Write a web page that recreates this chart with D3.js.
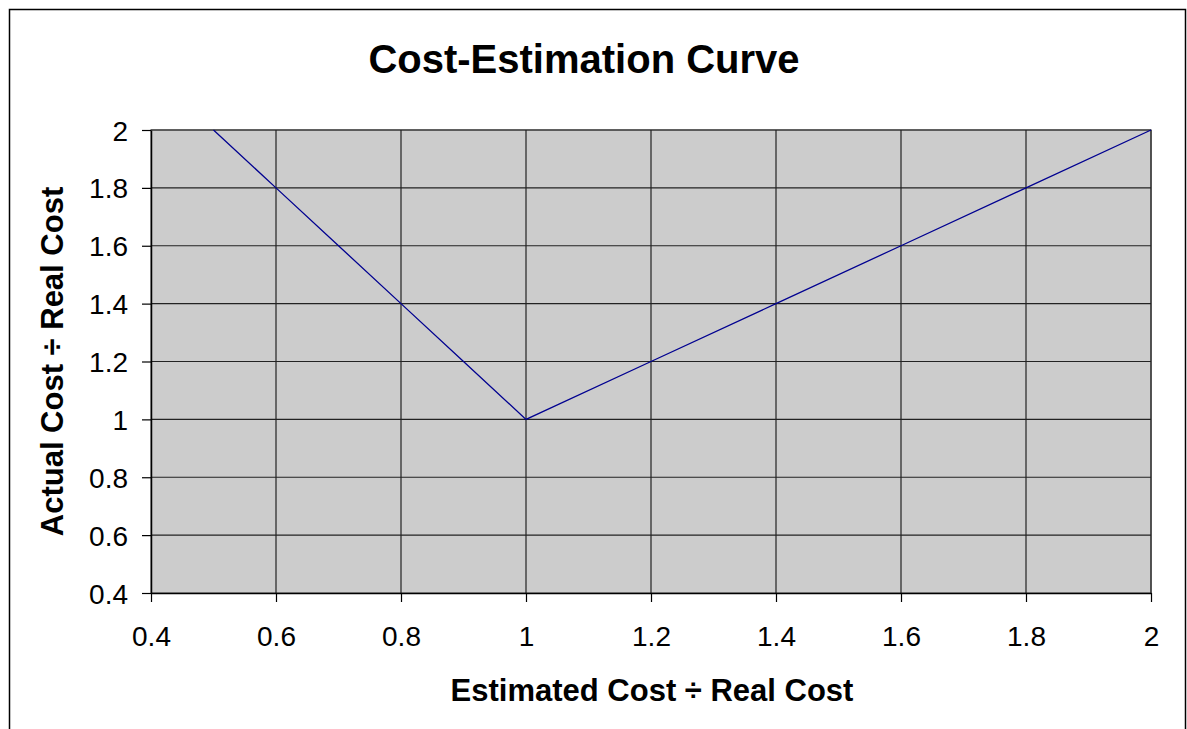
<!DOCTYPE html>
<html>
<head>
<meta charset="utf-8">
<script src="https://cdn.jsdelivr.net/npm/d3@7"></script>
<style>
  body { margin: 0; background: #fff; }
  svg { display: block; font-family: "Liberation Sans", Arial, sans-serif; }
  .tick text { font-size: 28px; fill: #000; }
</style>
</head>
<body>
<div id="container"></div>
<script>
// values
var estimated = [0.5, 0.6, 0.7, 0.8, 0.9, 1.0, 1.2, 1.4, 1.6, 1.8, 2.0];
var actual    = [2.0, 1.8, 1.6, 1.4, 1.2, 1.0, 1.2, 1.4, 1.6, 1.8, 2.0];
var xTicks = [0.4, 0.6, 0.8, 1, 1.2, 1.4, 1.6, 1.8, 2];
var yTicks = [0.4, 0.6, 0.8, 1, 1.2, 1.4, 1.6, 1.8, 2];
var xDomain = [0.4, 2];
var yDomain = [0.4, 2];

var W = 1187, H = 729;
var margin = { top: 130, right: 36, bottom: 136, left: 151 };
var width = W - margin.left - margin.right;   // 1000
var height = H - margin.top - margin.bottom;  // 463

var svg = d3.select("#container").append("svg")
  .attr("width", W)
  .attr("height", H);

// outer chart border (bottom edge falls outside the picture)
svg.append("rect")
  .attr("x", 9.5).attr("y", 9.5)
  .attr("width", 1176).attr("height", 740)
  .attr("fill", "#fff")
  .attr("stroke", "#000")
  .attr("stroke-width", 1.5);

var g = svg.append("g")
  .attr("transform", "translate(" + margin.left + "," + margin.top + ")");

var x = d3.scaleLinear().domain(xDomain).range([0, width]);
var y = d3.scaleLinear().domain(yDomain).range([height, 0]);

// plot area
g.append("rect")
  .attr("width", width).attr("height", height)
  .attr("fill", "#cccccc")
  .attr("stroke", "#808080")
  .attr("stroke-width", 1.5);

// grid lines
g.append("g")
  .selectAll("line.gx")
  .data(xTicks.slice(1))
  .enter().append("line")
  .attr("x1", function(d) { return x(d); })
  .attr("x2", function(d) { return x(d); })
  .attr("y1", 0).attr("y2", height)
  .attr("stroke", "#222").attr("stroke-width", 1.2);

g.append("g")
  .selectAll("line.gy")
  .data(yTicks.slice(1))
  .enter().append("line")
  .attr("y1", function(d) { return y(d); })
  .attr("y2", function(d) { return y(d); })
  .attr("x1", 0).attr("x2", width)
  .attr("stroke", "#222").attr("stroke-width", 1.2);

// axes
var xAxis = d3.axisBottom(x)
  .tickValues(xTicks)
  .tickSize(9)
  .tickPadding(24)
  .tickSizeOuter(0)
  .tickFormat(d3.format("~g"));

var yAxis = d3.axisLeft(y)
  .tickValues(yTicks)
  .tickSize(9)
  .tickPadding(14)
  .tickSizeOuter(0)
  .tickFormat(d3.format("~g"));

var gx = g.append("g")
  .attr("transform", "translate(0," + height + ")")
  .call(xAxis);
var gy = g.append("g").call(yAxis);

[gx, gy].forEach(function(a) {
  a.select(".domain").attr("stroke", "#000").attr("stroke-width", 1.5);
  a.selectAll(".tick line").attr("stroke", "#000").attr("stroke-width", 1.2);
  a.selectAll(".tick text").attr("font-family", null).attr("font-size", null);
});
gy.selectAll(".tick text").attr("dy", "0.36em");

// the curve
var line = d3.line()
  .x(function(d) { return x(d[0]); })
  .y(function(d) { return y(d[1]); });

g.append("path")
  .datum(d3.zip(estimated, actual))
  .attr("d", line)
  .attr("fill", "none")
  .attr("stroke", "#000090")
  .attr("stroke-width", 1.3);

// titles
svg.append("text")
  .attr("x", 584).attr("y", 73)
  .attr("text-anchor", "middle")
  .attr("font-size", 40)
  .attr("font-weight", "bold")
  .text("Cost-Estimation Curve");

svg.append("text")
  .attr("x", 652).attr("y", 701)
  .attr("text-anchor", "middle")
  .attr("font-size", 31)
  .attr("font-weight", "bold")
  .text("Estimated Cost \u00f7 Real Cost");

svg.append("text")
  .attr("transform", "translate(63," + (margin.top + height / 2) + ") rotate(-90)")
  .attr("text-anchor", "middle")
  .attr("font-size", 31)
  .attr("font-weight", "bold")
  .text("Actual Cost \u00f7 Real Cost");
</script>
</body>
</html>
